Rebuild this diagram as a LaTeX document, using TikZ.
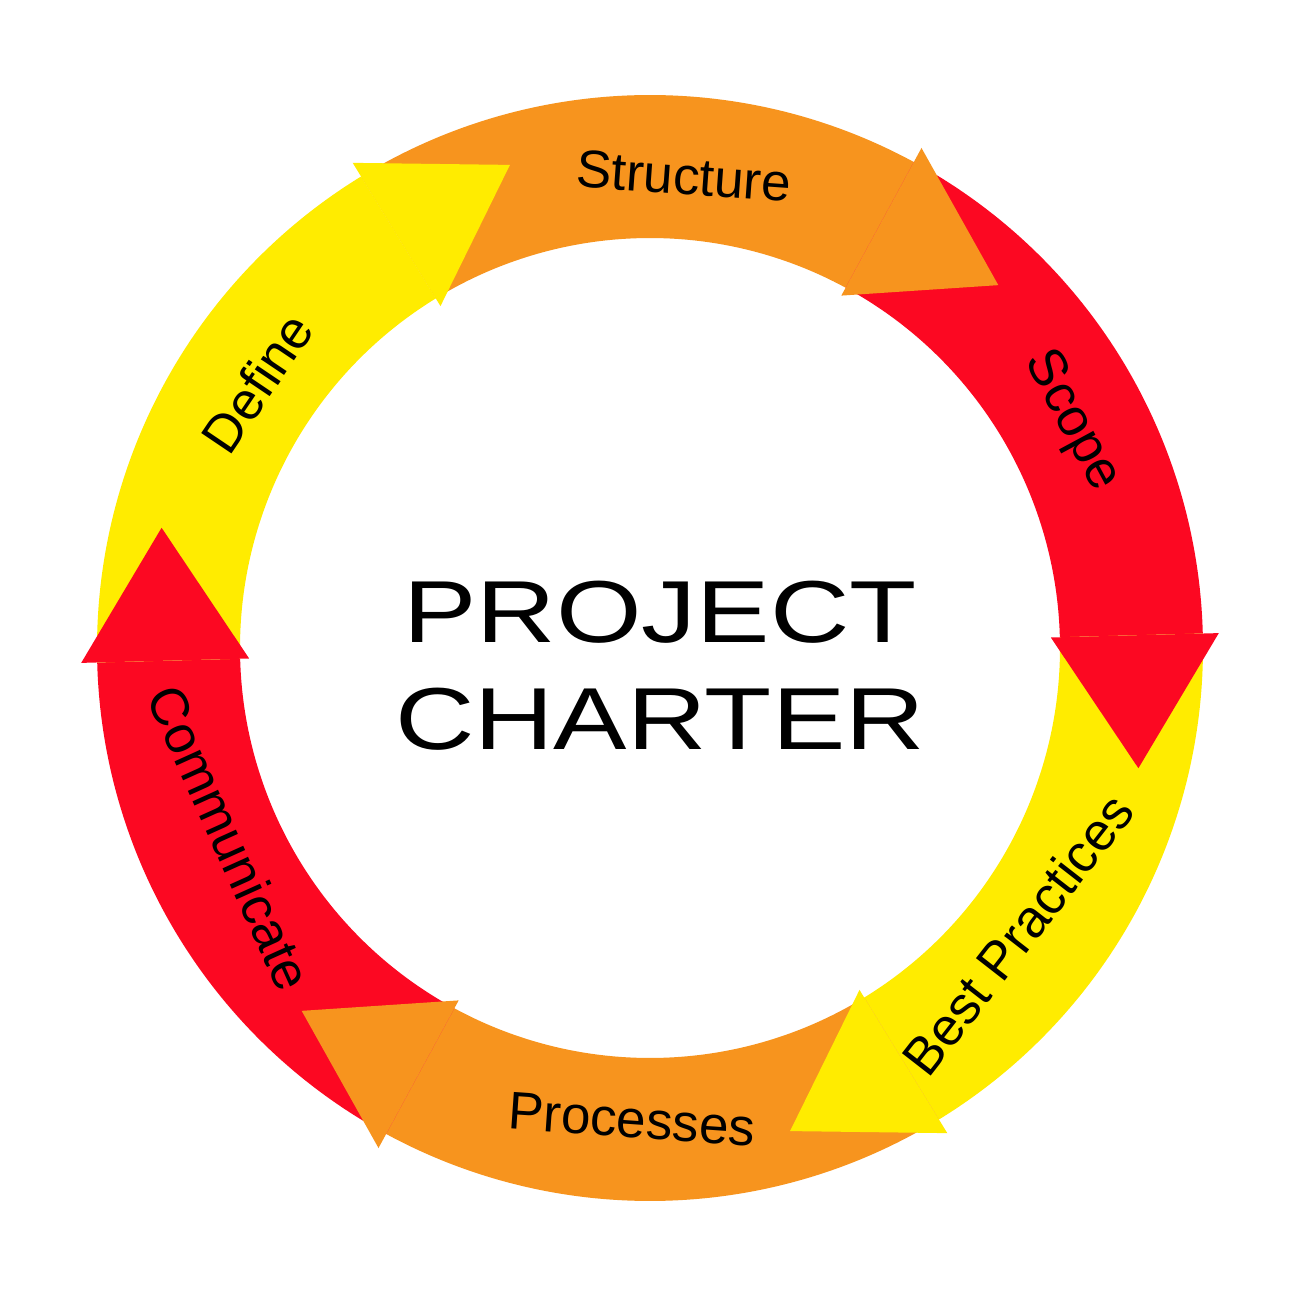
\documentclass[tikz,border=0pt]{standalone}
\usepackage{graphicx}
\usepackage{fontspec}
\setmainfont{Liberation Sans}
\definecolor{cOrange}{RGB}{247,148,30}
\definecolor{cRed}{RGB}{252,8,34}
\definecolor{cYellow}{RGB}{255,236,0}
\begin{document}
\begin{tikzpicture}[x=0.5pt,y=0.5pt,
  lbl/.style={font=\fontsize{26.5}{30}\selectfont, inner sep=0pt},
  title/.style={font=\fontsize{44}{50}\selectfont, anchor=base, inner sep=0pt}]
\useasboundingbox (-650,-652) rectangle (650,648);
\fill[white] (-650,-652) rectangle (650,648);
\def\ri{410}\def\ro{553}
% arrow bodies
\foreach \b/\c in {61.5/cOrange,1.5/cRed,-58.5/cYellow,-118.5/cOrange,-178.5/cRed,-238.5/cYellow}{
  \pgfmathsetmacro\s{\b+60}
  \fill[\c] (\s:\ro) arc[start angle=\s,end angle=\b,radius=\ro] -- (\b:\ri) arc[start angle=\b,end angle=\s,radius=\ri] -- cycle;
}
% arrow heads
\foreach \b/\c in {61.5/cOrange,1.5/cRed,-58.5/cYellow,-118.5/cOrange,-178.5/cRed,-238.5/cYellow}{
  \pgfmathsetmacro\t{\b-15.33}
  \fill[\c] (\b:401) -- (\b:569) -- (\t:503) -- cycle;
}
% labels
\node[lbl, rotate=-4.1] (structure) at (85.9:473) {Structure};
\node[lbl, rotate=-61.7] (scope) at (28.3:479) {Scope};
\node[lbl, rotate=52.1] (best) at (-37.9:466) {Best Practices};
\node[lbl, rotate=-4] (processes) at (-92.2:472) {Processes};
\node[lbl, rotate=-65.7] (communicate) at (204.3:461) {Communicate};
\node[lbl, rotate=56] (define) at (146:474) {Define};
% title
\node[title] (project) at (10,5) {\scalebox{1.25}[1]{PROJECT}};
\node[title] (charter) at (10,-102) {\scalebox{1.25}[1]{CHARTER}};
\end{tikzpicture}
\end{document}
